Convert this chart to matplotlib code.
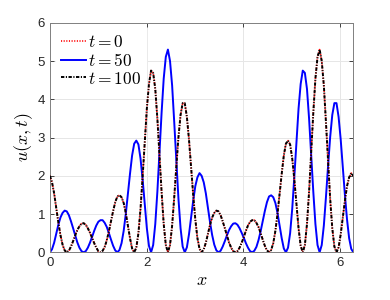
import numpy as np
import matplotlib
matplotlib.use("Agg")
import matplotlib.pyplot as plt

# samples (145 points evenly spread over [0, 2*pi])
u_t0 = [2.00, 1.83, 1.54, 1.16, 0.78, 0.45, 0.20, 0.05, 0.00, 0.04, 0.15, 0.29, 0.44, 0.58, 0.68, 0.75,
        0.76, 0.72, 0.63, 0.51, 0.38, 0.24, 0.12, 0.03, 0.00, 0.04, 0.14, 0.32, 0.55, 0.82, 1.08, 1.31,
        1.46, 1.49, 1.44, 1.29, 1.03, 0.70, 0.37, 0.10, 0.00, 0.12, 0.50, 1.14, 1.98, 2.88, 3.76, 4.40,
        4.75, 4.69, 4.27, 3.49, 2.55, 1.58, 0.74, 0.19, 0.00, 0.19, 0.70, 1.44, 2.25, 3.01, 3.59, 3.90,
        3.90, 3.54, 2.95, 2.23, 1.50, 0.86, 0.37, 0.09, 0.00, 0.08, 0.25, 0.49, 0.72, 0.91, 1.03, 1.09,
        1.07, 0.97, 0.81, 0.63, 0.44, 0.26, 0.12, 0.03, 0.00, 0.03, 0.12, 0.25, 0.40, 0.56, 0.70, 0.80,
        0.84, 0.84, 0.77, 0.66, 0.50, 0.33, 0.17, 0.05, 0.00, 0.06, 0.24, 0.56, 1.00, 1.52, 2.05, 2.53,
        2.84, 2.92, 2.82, 2.45, 1.90, 1.25, 0.63, 0.17, 0.00, 0.19, 0.74, 1.59, 2.63, 3.65, 4.54, 5.11,
        5.30, 5.00, 4.36, 3.40, 2.38, 1.40, 0.63, 0.15, 0.00, 0.13, 0.47, 0.91, 1.35, 1.73, 1.96, 2.07,
        2.00]

u_t50 = [0.00, 0.08, 0.25, 0.49, 0.72, 0.91, 1.03, 1.09, 1.07, 0.97, 0.81, 0.63, 0.44, 0.26, 0.12, 0.03,
         0.00, 0.03, 0.12, 0.25, 0.40, 0.56, 0.70, 0.80, 0.84, 0.84, 0.77, 0.66, 0.50, 0.33, 0.17, 0.05,
         0.00, 0.06, 0.24, 0.56, 1.00, 1.52, 2.05, 2.53, 2.84, 2.92, 2.82, 2.45, 1.90, 1.25, 0.63, 0.17,
         0.00, 0.19, 0.74, 1.59, 2.63, 3.65, 4.54, 5.11, 5.30, 5.00, 4.36, 3.40, 2.38, 1.40, 0.63, 0.15,
         0.00, 0.13, 0.47, 0.91, 1.35, 1.73, 1.96, 2.07, 2.00, 1.83, 1.54, 1.16, 0.78, 0.45, 0.20, 0.05,
         0.00, 0.04, 0.15, 0.29, 0.44, 0.58, 0.68, 0.75, 0.76, 0.72, 0.63, 0.51, 0.38, 0.24, 0.12, 0.03,
         0.00, 0.04, 0.14, 0.32, 0.55, 0.82, 1.08, 1.31, 1.46, 1.49, 1.44, 1.29, 1.03, 0.70, 0.37, 0.10,
         0.00, 0.12, 0.50, 1.14, 1.98, 2.88, 3.76, 4.40, 4.75, 4.69, 4.27, 3.49, 2.55, 1.58, 0.74, 0.19,
         0.00, 0.19, 0.70, 1.44, 2.25, 3.01, 3.59, 3.90, 3.90, 3.54, 2.95, 2.23, 1.50, 0.86, 0.37, 0.09,
         0.00]

u_t100 = list(u_t0)  # same as t=0 in the picture

x = np.linspace(0, 2 * np.pi, len(u_t0))

plt.rcParams['mathtext.fontset'] = 'cm'
plt.rcParams['font.family'] = 'Liberation Sans'
plt.rcParams['lines.scale_dashes'] = False

fig = plt.figure(figsize=(3.9, 3.0), dpi=100)
ax = fig.add_axes([0.128, 0.159, 0.778, 0.765])

ax.plot(x, u_t0, color='red', lw=1.2, dashes=(0.8, 1.1), label='$t=0$', zorder=3)
ax.plot(x, u_t50, '-', color='blue', lw=1.4, label='$t=50$', zorder=2)
ax.plot(x, u_t100, color='black', lw=1.4, dashes=(2.4, 1.1, 0.8, 1.1),
        label='$t=100$', zorder=4)

ax.set_xlim(0, 2 * np.pi)
ax.set_ylim(0, 6)
ax.set_xticks([0, 2, 4, 6])
ax.set_yticks(range(7))
ax.grid(True, color='#e6e6e6', lw=0.7)
ax.set_axisbelow(True)
ax.tick_params(direction='in', top=True, right=True, labelsize=9.5,
               colors='#262626', length=3, width=0.6)
for s in ax.spines.values():
    s.set_color('#808080')
    s.set_linewidth(0.7)

ax.set_xlabel('$x$', fontsize=13, labelpad=2)
ax.set_ylabel('$u(x,t)$', fontsize=13, labelpad=2)

leg = ax.legend(loc='upper left', fontsize=12.5, frameon=True, fancybox=False,
                handlelength=1.45, handletextpad=0.1, labelspacing=0.1,
                borderaxespad=0.35, borderpad=0.3)
leg.get_frame().set_edgecolor('white')
leg.get_frame().set_facecolor('white')
leg.get_frame().set_alpha(1)

fig.savefig('out.png', dpi=100)
